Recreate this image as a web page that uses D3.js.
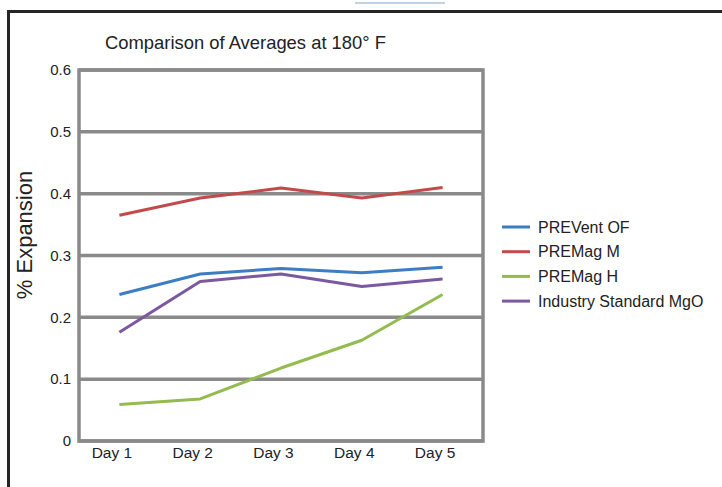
<!DOCTYPE html>
<html><head><meta charset="utf-8">
<script src="https://cdn.jsdelivr.net/npm/d3@7"></script>
<style>body{margin:0;background:#fff;} svg{display:block;} text{font-family:"Liberation Sans",Arial,Helvetica,sans-serif;fill:#222;}</style>
</head><body>
<svg id="c" width="722" height="487"></svg>
<script>
const categories = ["Day 1","Day 2","Day 3","Day 4","Day 5"];
const seriesNames = ["PREVent OF","PREMag M","PREMag H","Industry Standard MgO"];
const preventOF = [0.237,0.270,0.279,0.272,0.281];
const premagM = [0.365,0.393,0.409,0.393,0.410];
const premagH = [0.059,0.068,0.118,0.163,0.237];
const industryMgO = [0.176,0.258,0.270,0.250,0.262];
const yTicks = [0,0.1,0.2,0.3,0.4,0.5,0.6];
const colors = ["#3d7dc1","#c24a4b","#93bb4f","#7b59a0"];
const allSeries = [preventOF, premagM, premagH, industryMgO];

const svg = d3.select("#c");
// outer frame
svg.append("path").attr("d","M8.5,487 L8.5,11.5 L722,11.5").attr("fill","none").attr("stroke","#262626").attr("stroke-width",3);
svg.append("line").attr("x1",355).attr("x2",445).attr("y1",3).attr("y2",3).attr("stroke","#a8c4dc").attr("stroke-width",1.5);

const L=79, R=483, T=70, B=441;
const x = d3.scalePoint().domain(categories).range([L,R]).padding(0.5);
const y = d3.scaleLinear().domain([0,0.6]).range([B,T]);

// gridlines
svg.append("g").selectAll("line").data(yTicks).join("line")
  .attr("x1",L).attr("x2",R).attr("y1",d=>y(d)).attr("y2",d=>y(d))
  .attr("stroke","#8a8a8a").attr("stroke-width",3.5);
svg.append("rect").attr("x",L).attr("y",T).attr("width",R-L).attr("height",B-T)
  .attr("fill","none").attr("stroke","#8a8a8a").attr("stroke-width",3.5);

// y axis labels
const ya = svg.append("g").attr("transform",`translate(${L-8},0)`)
  .call(d3.axisLeft(y).tickValues(yTicks).tickFormat(d=>d===0?"0":d3.format(".1f")(d)).tickSize(0).tickPadding(0));
ya.select(".domain").remove();
ya.selectAll("text").style("font-size","15px").attr("fill","#222");

// x axis labels
const xa = svg.append("g").attr("transform",`translate(-8,${B+3})`)
  .call(d3.axisBottom(x).tickSize(0).tickPadding(0));
xa.select(".domain").remove();
xa.selectAll("text").style("font-size","15.5px").attr("fill","#222").attr("dy","0.9em");

// lines
const line = d3.line().x((d,i)=>x(categories[i])).y(d=>y(d));
svg.append("g").selectAll("path").data(allSeries).join("path")
  .attr("d",line).attr("fill","none").attr("stroke",(d,i)=>colors[i]).attr("stroke-width",3).attr("stroke-linejoin","round");

// title
svg.append("text").attr("x",105).attr("y",49).text("Comparison of Averages at 180° F")
  .style("font-size","18.4px");

// y label
svg.append("text").attr("transform","translate(32,235) rotate(-90)").attr("text-anchor","middle")
  .text("% Expansion").style("font-size","22px");

// legend
const lg = svg.append("g").selectAll("g").data(seriesNames).join("g")
  .attr("transform",(d,i)=>`translate(502,${227+i*24.7})`);
lg.append("line").attr("x1",0).attr("x2",28).attr("stroke",(d,i)=>colors[i]).attr("stroke-width",3);
lg.append("text").attr("x",36).attr("dy","0.35em").text(d=>d).style("font-size","16px");
</script>
</body></html>
